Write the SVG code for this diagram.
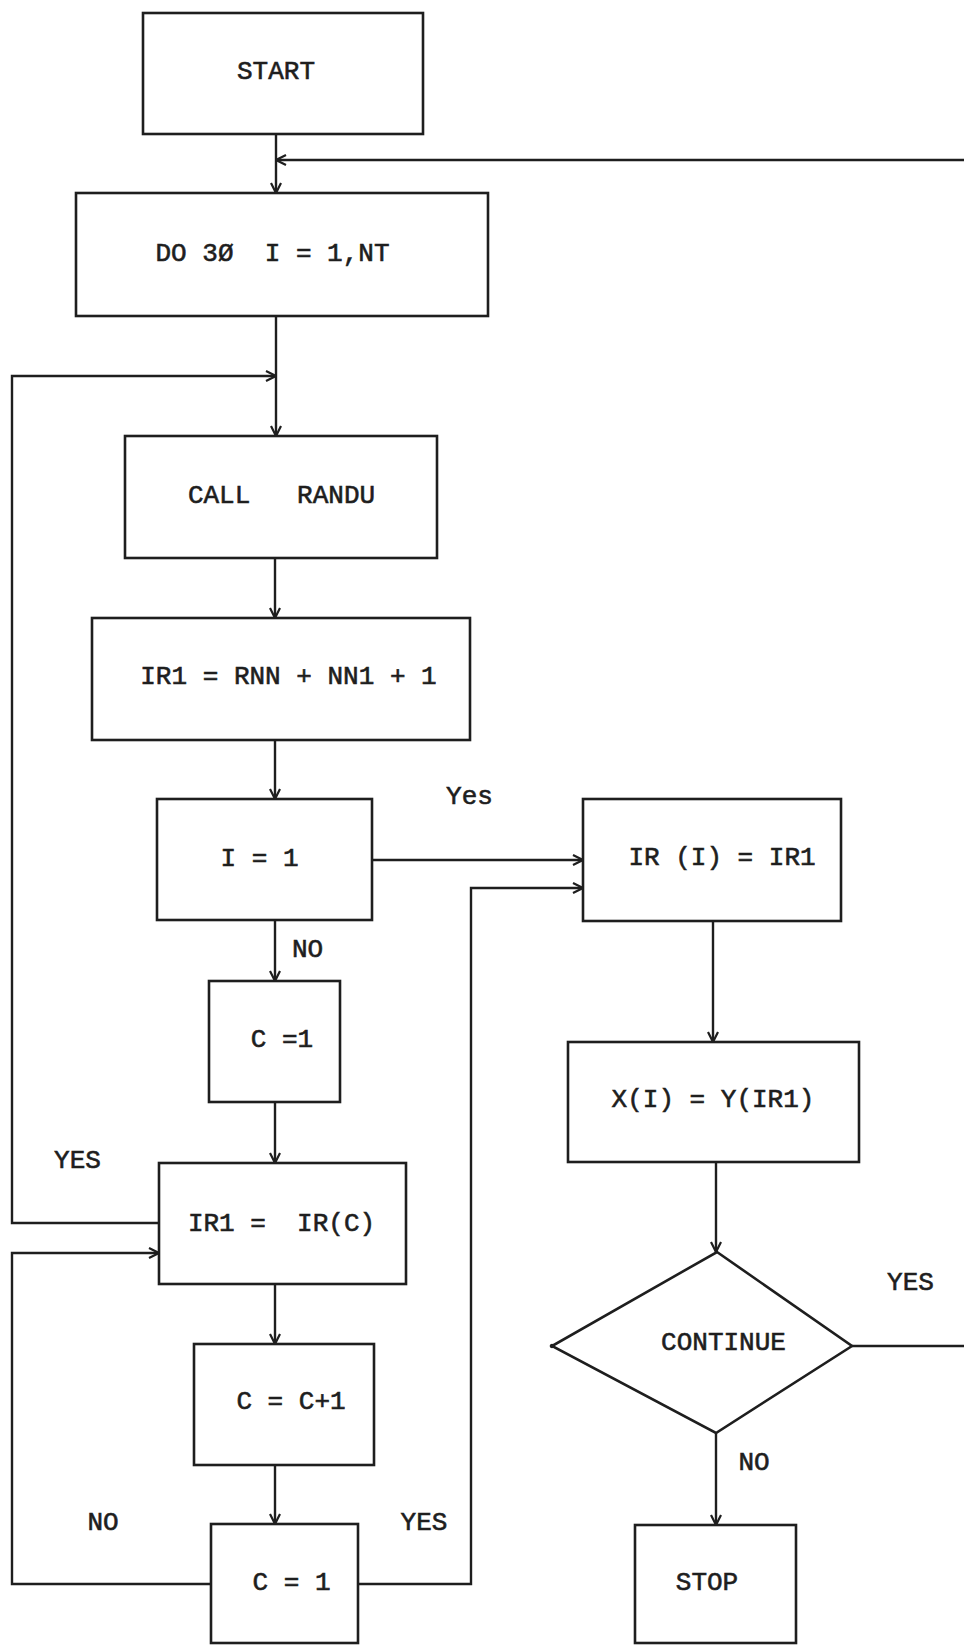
<svg xmlns="http://www.w3.org/2000/svg" width="964" height="1645" viewBox="0 0 964 1645">
<style>
.box{fill:#fff;stroke:#1e1e1e;stroke-width:2.6}
.t{font-family:"Liberation Mono","DejaVu Sans Mono",monospace;font-size:26px;fill:#1e1e1e;stroke:#1e1e1e;stroke-width:0.6;text-anchor:middle;white-space:pre}
.c{fill:none;stroke:#1e1e1e;stroke-width:2.4}
</style>
<defs>
<marker id="ah" viewBox="0 0 12 12" refX="11" refY="6" markerWidth="12" markerHeight="12" markerUnits="userSpaceOnUse" orient="auto">
<path d="M1,1 L11,6 L1,11" fill="none" stroke="#1e1e1e" stroke-width="2.2"/>
</marker>
</defs>
<rect width="964" height="1645" fill="#fff"/>
<g id="connectors">
<path class="c" d="M276,134 V193" marker-end="url(#ah)"/>
<path class="c" d="M852,1346 H975 V160 H276" marker-end="url(#ah)"/>
<path class="c" d="M276,316 V436" marker-end="url(#ah)"/>
<path class="c" d="M159,1223 H12 V376 H276" marker-end="url(#ah)"/>
<path class="c" d="M275,558 V618" marker-end="url(#ah)"/>
<path class="c" d="M275,740 V799" marker-end="url(#ah)"/>
<path class="c" d="M372,860 H583" marker-end="url(#ah)"/>
<path class="c" d="M275,920 V981" marker-end="url(#ah)"/>
<path class="c" d="M275,1102 V1163" marker-end="url(#ah)"/>
<path class="c" d="M275,1284 V1344" marker-end="url(#ah)"/>
<path class="c" d="M275,1465 V1524" marker-end="url(#ah)"/>
<path class="c" d="M211,1584 H12 V1253 H159" marker-end="url(#ah)"/>
<path class="c" d="M358,1584 H471 V888 H583" marker-end="url(#ah)"/>
<path class="c" d="M713,921 V1042" marker-end="url(#ah)"/>
<path class="c" d="M716,1162 V1252" marker-end="url(#ah)"/>
<path class="c" d="M716,1433 V1525" marker-end="url(#ah)"/>
<circle cx="552" cy="1346" r="2.2" fill="#1e1e1e"/>
</g>
<g id="labels">
<text class="t" x="469.5" y="804">Yes</text>
<text class="t" x="307.5" y="957">NO</text>
<text class="t" x="77.5" y="1168">YES</text>
<text class="t" x="910.5" y="1290">YES</text>
<text class="t" x="103" y="1530">NO</text>
<text class="t" x="424" y="1530">YES</text>
<text class="t" x="754" y="1470">NO</text>
</g>
<g id="start"><rect class="box" x="143" y="13" width="280" height="121"/><text class="t" x="276" y="79">START</text></g>
<g id="do30"><rect class="box" x="76" y="193" width="412" height="123"/><text class="t" x="272.5" y="261">DO 3Ø  I = 1,NT</text></g>
<g id="callrandu"><rect class="box" x="125" y="436" width="312" height="122"/><text class="t" x="281.5" y="503">CALL   RANDU</text></g>
<g id="ir1calc"><rect class="box" x="92" y="618" width="378" height="122"/><text class="t" x="288.5" y="684">IR1 = RNN + NN1 + 1</text></g>
<g id="ieq1"><rect class="box" x="157" y="799" width="215" height="121"/><text class="t" x="259.5" y="866">I = 1</text></g>
<g id="irassign"><rect class="box" x="583" y="799" width="258" height="122"/><text class="t" x="722" y="865">IR (I) = IR1</text></g>
<g id="ceq1a"><rect class="box" x="209" y="981" width="131" height="121"/><text class="t" x="282" y="1047">C =1</text></g>
<g id="xassign"><rect class="box" x="568" y="1042" width="291" height="120"/><text class="t" x="713" y="1107">X(I) = Y(IR1)</text></g>
<g id="ir1irc"><rect class="box" x="159" y="1163" width="247" height="121"/><text class="t" x="281.5" y="1231">IR1 =  IR(C)</text></g>
<g id="cinc"><rect class="box" x="194" y="1344" width="180" height="121"/><text class="t" x="291" y="1409">C = C+1</text></g>
<g id="ceq1b"><rect class="box" x="211" y="1524" width="147" height="119"/><text class="t" x="291.5" y="1590">C = 1</text></g>
<g id="continue"><polygon class="box" points="717,1252 852,1346 716,1433 552,1346"/><text class="t" x="723.5" y="1350">CONTINUE</text></g>
<g id="stop"><rect class="box" x="635" y="1525" width="161" height="118"/><text class="t" x="707" y="1590">STOP</text></g>
</svg>
